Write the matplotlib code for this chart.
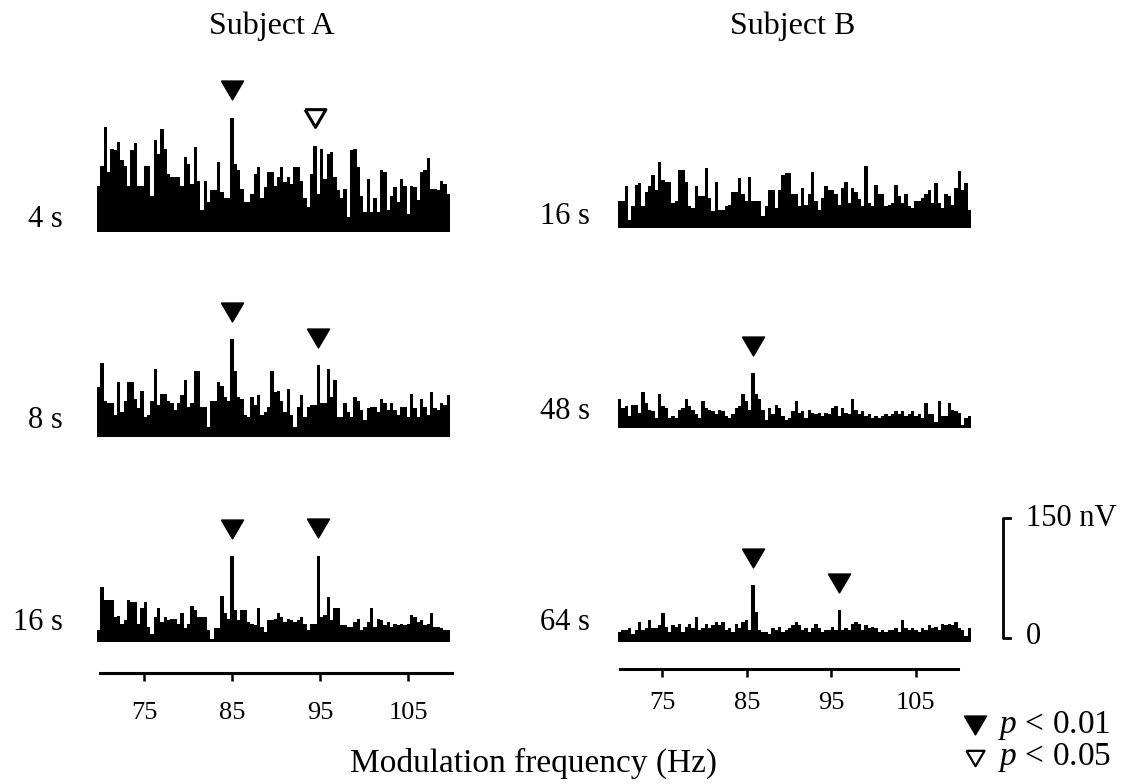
import numpy as np
import matplotlib
matplotlib.use("Agg")
import matplotlib.pyplot as plt
from matplotlib.lines import Line2D

plt.rcParams['font.family'] = ['Liberation Serif', 'DejaVu Serif']
plt.rcParams['mathtext.fontset'] = 'custom'
plt.rcParams['mathtext.it'] = 'Liberation Serif:italic'
plt.rcParams['mathtext.rm'] = 'Liberation Serif'

# spectra, amplitude in nV, equal bins between 70 and 110 Hz
f_lo, f_hi = 70.0, 110.0

subjA_4s = [58, 83, 131, 75, 104, 102, 113, 90, 83, 58, 102, 111, 58, 58, 83, 83, 45, 115, 98, 129,
            104, 73, 69, 69, 69, 58, 94, 85, 60, 106, 64, 27, 64, 38, 52, 52, 87, 50, 43, 43,
            143, 85, 77, 54, 38, 38, 48, 73, 81, 43, 56, 75, 75, 58, 69, 81, 62, 69, 60, 81,
            81, 64, 43, 31, 73, 108, 48, 104, 66, 98, 100, 69, 52, 42, 54, 19, 102, 104, 81, 45,
            25, 66, 25, 43, 25, 77, 75, 27, 45, 56, 38, 66, 58, 23, 58, 56, 40, 75, 77, 92,
            54, 54, 52, 64, 60, 48]
subjA_8s = [62, 92, 45, 43, 42, 27, 69, 31, 45, 69, 69, 48, 36, 58, 25, 27, 45, 85, 40, 54,
            54, 45, 43, 34, 43, 52, 71, 38, 42, 83, 83, 38, 38, 13, 45, 45, 69, 64, 50, 45,
            122, 83, 50, 48, 27, 25, 50, 40, 52, 27, 31, 38, 83, 56, 58, 45, 31, 60, 27, 13,
            38, 52, 25, 38, 40, 40, 90, 43, 43, 85, 50, 71, 25, 25, 43, 31, 25, 50, 45, 34,
            21, 36, 38, 38, 31, 48, 43, 34, 43, 34, 27, 38, 38, 25, 54, 36, 25, 48, 38, 27,
            56, 36, 34, 42, 40, 52]
subjA_16s = [15, 69, 52, 52, 52, 31, 32, 23, 27, 52, 50, 50, 23, 43, 50, 19, 10, 31, 42, 25,
             31, 27, 29, 29, 23, 36, 17, 23, 45, 40, 31, 31, 31, 15, 4, 17, 17, 58, 36, 29,
             107, 40, 27, 40, 40, 25, 23, 21, 42, 19, 13, 27, 27, 29, 36, 31, 25, 29, 27, 25,
             27, 31, 23, 15, 23, 23, 108, 31, 34, 56, 27, 43, 43, 21, 21, 19, 19, 25, 29, 15,
             19, 25, 42, 19, 29, 27, 21, 25, 19, 23, 21, 23, 21, 23, 34, 31, 25, 27, 21, 23,
             36, 19, 19, 17, 15, 15]
subjB_16s = [34, 34, 52, 10, 27, 54, 56, 27, 45, 52, 66, 48, 82, 60, 58, 58, 31, 34, 72, 72,
             58, 27, 25, 52, 40, 40, 75, 38, 21, 58, 23, 23, 27, 29, 45, 45, 62, 43, 34, 64,
             34, 34, 34, 15, 27, 48, 48, 25, 48, 66, 69, 69, 43, 42, 27, 50, 29, 43, 70, 34,
             23, 38, 52, 48, 48, 42, 29, 50, 58, 31, 50, 45, 36, 27, 77, 31, 27, 54, 42, 42,
             27, 29, 31, 54, 40, 31, 42, 27, 25, 34, 34, 38, 42, 48, 31, 56, 31, 25, 42, 40,
             29, 50, 71, 48, 56, 23]
subjB_48s = [36, 25, 27, 15, 29, 29, 19, 45, 31, 23, 21, 13, 42, 27, 25, 13, 15, 13, 23, 25,
             36, 27, 23, 17, 13, 34, 25, 23, 21, 17, 23, 21, 15, 13, 17, 25, 27, 43, 34, 23,
             69, 43, 36, 23, 10, 25, 17, 29, 25, 15, 10, 13, 21, 34, 19, 21, 13, 23, 19, 17,
             19, 15, 19, 17, 25, 27, 15, 25, 19, 17, 36, 23, 17, 21, 15, 17, 13, 15, 13, 15,
             17, 15, 17, 21, 17, 21, 15, 17, 21, 15, 17, 13, 31, 17, 17, 8, 34, 15, 15, 31,
             23, 21, 19, 4, 13, 15]
subjB_64s = [13, 15, 15, 17, 10, 15, 25, 15, 17, 27, 17, 17, 21, 36, 19, 13, 21, 19, 23, 13,
             19, 23, 17, 31, 15, 17, 23, 17, 21, 25, 21, 25, 15, 17, 13, 23, 17, 25, 27, 15,
             71, 38, 15, 13, 13, 10, 17, 15, 19, 13, 15, 17, 21, 25, 21, 15, 17, 13, 17, 23,
             17, 13, 15, 15, 19, 15, 40, 15, 17, 15, 23, 25, 23, 15, 21, 17, 19, 17, 13, 15,
             13, 15, 15, 17, 13, 27, 17, 15, 17, 15, 13, 17, 15, 21, 17, 19, 15, 23, 21, 23,
             21, 25, 17, 15, 8, 17]

col_titles = ["Subject A", "Subject B"]
row_labels_A = ["4 s", "8 s", "16 s"]
row_labels_B = ["16 s", "48 s", "64 s"]
# significant components: (frequency, filled?)  filled = p < 0.01, open = p < 0.05
marks_A = [[(85, True), (95, False)], [(85, True), (95, True)], [(85, True), (95, True)]]
marks_B = [[], [(85, True)], [(85, True), (95, True)]]
freq_ticks = [75, 85, 95, 105]
scale_nv = 150

W, H = 1143, 784
px_per_nv = 0.8
ymax = 200

# down-pointing triangle, a little wider than tall
tri = [(-1, 0.85), (1, 0.85), (0, -0.85), (-1, 0.85)]

fig = plt.figure(figsize=(W / 100, H / 100), dpi=100)


def fx(x):
    return x / W


def fy(y):
    return 1 - y / H


def panel(x0, x1, base, vals, marks):
    ax = fig.add_axes([fx(x0), fy(base), fx(x1 - x0), ymax * px_per_nv / H])
    edges = np.linspace(f_lo, f_hi, len(vals) + 1)
    ax.stairs(vals, edges, fill=True, color='black', lw=0.6)
    ax.set_xlim(f_lo, f_hi)
    ax.set_ylim(0, ymax)
    ax.axis('off')
    centers = (edges[:-1] + edges[1:]) / 2
    for f, filled in marks:
        near = np.abs(centers - f) < 0.6
        i = np.argmax(np.where(near, vals, -1))
        top = vals[i] + 34
        if filled:
            ax.plot(centers[i], top, marker=tri, ms=16, color='black', clip_on=False)
        else:
            ax.plot(centers[i], top, marker=tri, ms=15, mfc='white', mec='black', mew=2.2, clip_on=False)
    return ax


def freq_axis(x0, x1, y, label_y):
    ax = fig.add_axes([fx(x0), fy(y), fx(x1 - x0), 0.001])
    ax.set_xlim(f_lo, f_hi)
    for s in ['top', 'left', 'right']:
        ax.spines[s].set_visible(False)
    ax.spines['bottom'].set_linewidth(2.2)
    ax.set_yticks([])
    ax.set_xticks(freq_ticks)
    ax.set_xticklabels([str(t) for t in freq_ticks])
    ax.tick_params(axis='x', direction='out', length=6, width=1.8,
                   labelsize=19, pad=(label_y - y - 21) * 0.72)
    ax.patch.set_visible(False)


cols = [(97, 450, [232, 437, 642], [subjA_4s, subjA_8s, subjA_16s], marks_A, row_labels_A, 63),
        (618, 971, [228, 428, 642], [subjB_16s, subjB_48s, subjB_64s], marks_B, row_labels_B, 590)]
label_dy = [12, 17, 19]

for (x0, x1, bases, series, marks, labels, lab_x), title in zip(cols, col_titles):
    for base, vals, mk, lab, dy in zip(bases, series, marks, labels, label_dy):
        panel(x0, x1, base, vals, mk)
        fig.text(fx(lab_x), fy(base - dy), lab, ha='right', va='center', fontsize=22)
    fig.text(fx((x0 + x1) / 2 - 2), fy(26), title, ha='center', va='center', fontsize=23)

freq_axis(100, 452, 673, 715)
freq_axis(620, 958, 669, 705)

fig.text(fx(533), fy(763), "Modulation frequency (Hz)", ha='center', va='center', fontsize=24)

# scale bar, same nV scale as the panels
sb = fig.add_axes([fx(1003), fy(638), fx(20), ymax * px_per_nv / H])
sb.set_xlim(0, 1)
sb.set_ylim(0, ymax)
sb.axis('off')
sb.plot([0.35, 0, 0, 0.35], [0, 0, scale_nv, scale_nv], color='black', lw=2, clip_on=False)
sb.text(1.15, scale_nv, "150 nV", ha='left', va='center', fontsize=22, transform=sb.transData)
sb.text(1.15, 2, "0", ha='left', va='center', fontsize=22, transform=sb.transData)

# legend
fig.lines.append(Line2D([fx(975)], [fy(725)], marker=tri, ms=16, color='black',
                        transform=fig.transFigure))
fig.lines.append(Line2D([fx(975)], [fy(758)], marker=tri, ms=13, mfc='white', mec='black',
                        mew=1.6, transform=fig.transFigure))
fig.text(fx(998), fy(725), r"$p$ < 0.01", ha='left', va='center', fontsize=24)
fig.text(fx(998), fy(757), r"$p$ < 0.05", ha='left', va='center', fontsize=24)

fig.savefig("out.png", dpi=100)
